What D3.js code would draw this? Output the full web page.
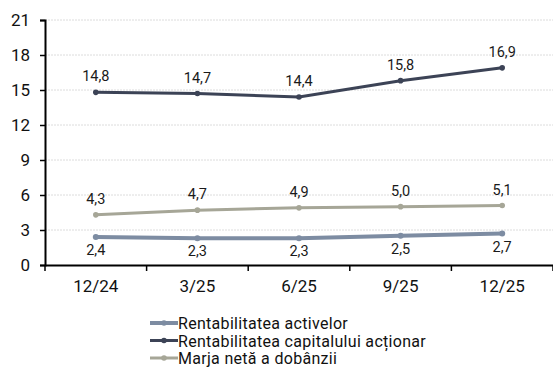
<!DOCTYPE html>
<html><head><meta charset="utf-8">
<script src="https://cdn.jsdelivr.net/npm/d3@7"></script>
<style>body{margin:0;background:#fff}svg{display:block;font-family:Roboto,"Noto Sans",sans-serif}</style>
</head><body><svg id="c" width="553" height="376"></svg>
<script>
const categories = ["12/24","3/25","6/25","9/25","12/25"];
const roa = [2.4,2.3,2.3,2.5,2.7];
const roe = [14.8,14.7,14.4,15.8,16.9];
const nim = [4.3,4.7,4.9,5.0,5.1];
const yTicks = [0,3,6,9,12,15,18,21];
const seriesNames = ["Rentabilitatea activelor","Rentabilitatea capitalului acționar","Marja netă a dobânzii"];
const series = [
  {name: seriesNames[0], values: roa, color:"#7d8ca2", width:4, labelPos:"below"},
  {name: seriesNames[1], values: roe, color:"#3c4356", width:3, labelPos:"above"},
  {name: seriesNames[2], values: nim, color:"#a6a697", width:3, labelPos:"above"}
];
const svg = d3.select("#c");
const x = d3.scaleBand().domain(categories).range([45,553]);
const y = d3.scaleLinear().domain([0,21]).range([265,20]);
// grid
svg.append("g").selectAll("line").data(yTicks.slice(1)).join("line")
  .attr("x1",45).attr("x2",553).attr("y1",d=>y(d)).attr("y2",d=>y(d))
  .attr("stroke","#dcdcdc").attr("stroke-width",1).attr("stroke-dasharray","2,1");
// y axis
const ya = svg.append("g").attr("transform","translate(45,0)")
  .call(d3.axisLeft(y).tickValues(yTicks).tickSize(5).tickPadding(10));
ya.select(".domain").attr("stroke","#000").attr("stroke-width",2);
ya.selectAll(".tick line").attr("stroke","#000").attr("stroke-width",1.5);
ya.selectAll("text").attr("font-size",17).attr("fill","#111").attr("font-family","Roboto");
// x axis
const xa = svg.append("g").attr("transform","translate(0,265)")
  .call(d3.axisBottom(x).tickSize(0).tickPadding(15));
xa.select(".domain").attr("stroke","#000").attr("stroke-width",2);
xa.selectAll("text").attr("font-size",17).attr("fill","#111").attr("font-family","Roboto");
const bounds = categories.map(c=>x(c)).concat([553]);
svg.append("g").selectAll("line").data(bounds).join("line")
  .attr("x1",d=>d).attr("x2",d=>d).attr("y1",265).attr("y2",271)
  .attr("stroke","#000").attr("stroke-width",1.5);
const cx = c => x(c) + x.bandwidth()/2;
const line = d3.line().x((d,i)=>cx(categories[i])).y(d=>y(d));
series.forEach(s=>{
  const g = svg.append("g");
  g.append("path").attr("d",line(s.values)).attr("fill","none")
    .attr("stroke",s.color).attr("stroke-width",s.width);
  g.selectAll("circle").data(s.values).join("circle")
    .attr("cx",(d,i)=>cx(categories[i])).attr("cy",d=>y(d)).attr("r",s.width===4?3:2.8)
    .attr("fill",s.color);
  g.selectAll("text").data(s.values).join("text")
    .attr("x",(d,i)=>cx(categories[i]))
    .attr("y",d=>s.labelPos==="above"? y(d)-11 : y(d)+18)
    .attr("text-anchor","middle").attr("font-size",14.5).attr("fill","#1a1a1a")
    .text(d=>d3.format(".1f")(d).replace(".",","));
});
// legend
const lg = svg.append("g");
series.forEach((s,i)=>{
  const yy = 323 + i*17.5;
  lg.append("line").attr("x1",150).attr("x2",178).attr("y1",yy).attr("y2",yy)
    .attr("stroke",s.color).attr("stroke-width",s.width);
  lg.append("circle").attr("cx",164).attr("cy",yy).attr("r",2.8).attr("fill",s.color);
  lg.append("text").attr("x",178).attr("y",yy+6).attr("font-size",16).attr("letter-spacing",0.3)
    .attr("fill","#111").text(s.name);
});
</script></body></html>
